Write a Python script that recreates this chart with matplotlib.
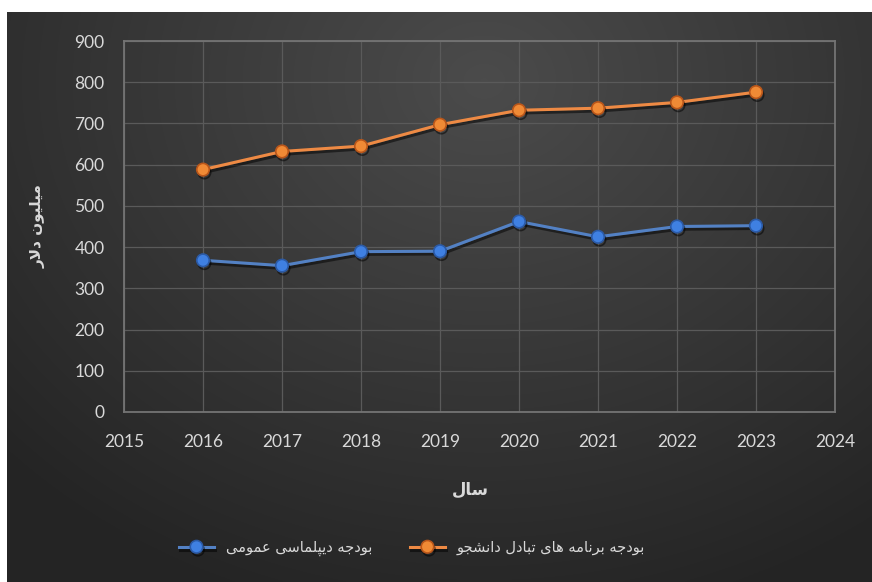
import numpy as np
import matplotlib
matplotlib.use('Agg')
import matplotlib.pyplot as plt
import matplotlib.patheffects as pe

years = [2016, 2017, 2018, 2019, 2020, 2021, 2022, 2023]
exchange_budget = [588, 632, 645, 697, 732, 737, 751, 776]
diplomacy_budget = [368, 355, 389, 390, 462, 425, 450, 452]

label_exchange = 'بودجه برنامه های تبادل دانشجو'
label_diplomacy = 'بودجه دیپلماسی عمومی'
x_title = 'سال'
y_title = 'میلیون دلار'

# contextual forms for the letters used in the Persian labels
# (isolated, final[, initial, medial])
JOIN_FORMS = {
    'ا': ('\ufe8d', '\ufe8e'),
    'د': ('\ufea9', '\ufeaa'),
    'ر': ('\ufead', '\ufeae'),
    'و': ('\ufeed', '\ufeee'),
    'ب': ('\ufe8f', '\ufe90', '\ufe91', '\ufe92'),
    'پ': ('\ufb56', '\ufb57', '\ufb58', '\ufb59'),
    'ت': ('\ufe95', '\ufe96', '\ufe97', '\ufe98'),
    'ج': ('\ufe9d', '\ufe9e', '\ufe9f', '\ufea0'),
    'س': ('\ufeb1', '\ufeb2', '\ufeb3', '\ufeb4'),
    'ش': ('\ufeb5', '\ufeb6', '\ufeb7', '\ufeb8'),
    'ع': ('\ufec9', '\ufeca', '\ufecb', '\ufecc'),
    'ل': ('\ufedd', '\ufede', '\ufedf', '\ufee0'),
    'م': ('\ufee1', '\ufee2', '\ufee3', '\ufee4'),
    'ن': ('\ufee5', '\ufee6', '\ufee7', '\ufee8'),
    'ه': ('\ufee9', '\ufeea', '\ufeeb', '\ufeec'),
    'ی': ('\ufbfc', '\ufbfd', '\ufbfe', '\ufbff'),
}


def shape_fa(text):
    """Join Persian letters and put them in visual (left-to-right) order."""
    out = []
    i = 0
    while i < len(text):
        c = text[i]
        if c not in JOIN_FORMS:
            out.append(c)
            i += 1
            continue
        prev = text[i - 1] if i > 0 else None
        joins_prev = prev in JOIN_FORMS and len(JOIN_FORMS[prev]) == 4
        if c == 'ل' and i + 1 < len(text) and text[i + 1] == 'ا':
            out.append('\ufefc' if joins_prev else '\ufefb')
            i += 2
            continue
        forms = JOIN_FORMS[c]
        nxt = text[i + 1] if i + 1 < len(text) else None
        joins_next = len(forms) == 4 and nxt in JOIN_FORMS
        if joins_prev and joins_next:
            out.append(forms[3])
        elif joins_prev:
            out.append(forms[1])
        elif joins_next:
            out.append(forms[2])
        else:
            out.append(forms[0])
        i += 1
    return ''.join(reversed(out))


FA_FONT = ['DejaVu Sans']
NUM_FONT = ['Lato', 'DejaVu Sans']
TXT = '#d9d9d9'

fig = plt.figure(figsize=(8.72, 5.82), dpi=100, facecolor='white')

# dark radial background
bg = fig.add_axes([7 / 872, 0, 865 / 872, 570 / 582], zorder=0)
h, w = 300, 450
yy, xx = np.mgrid[0:h, 0:w]
r = np.sqrt(((xx / w - 0.55) / 0.75) ** 2 + ((yy / h - 0.12) / 0.95) ** 2)
shade = np.clip(0.295 - 0.15 * r, 0.145, 0.295)
bg.imshow(np.dstack([shade] * 3), aspect='auto', extent=[0, 1, 0, 1],
          interpolation='bilinear')
bg.set_axis_off()

ax = fig.add_axes([124 / 872, 170 / 582, 711 / 872, 371 / 582], zorder=1)
ax.patch.set_alpha(0)

shadow = [pe.SimpleLineShadow(offset=(1, -2), shadow_color='black', alpha=0.5),
          pe.Normal()]

ax.plot(years, exchange_budget, color='#ee8a44', lw=2.2, marker='o', ms=9,
        mfc='#f08a35', mec='#b9561a', mew=1.2, label=shape_fa(label_exchange),
        path_effects=shadow, zorder=3)
ax.plot(years, diplomacy_budget, color='#5381c4', lw=2.2, marker='o', ms=9,
        mfc='#3f80e2', mec='#2b5aa6', mew=1.2, label=shape_fa(label_diplomacy),
        path_effects=shadow, zorder=3)

ax.set_xlim(2015, 2024)
ax.set_ylim(0, 900)
ax.set_xticks(range(2015, 2025))
ax.set_yticks(range(0, 1000, 100))
ax.grid(True, color='#5a5a5a', lw=0.9)
ax.set_axisbelow(True)
for s in ax.spines.values():
    s.set_color('#747474')
    s.set_linewidth(1.3)
ax.tick_params(length=0, colors=TXT, labelsize=12.5)
ax.tick_params(axis='x', pad=16)
ax.tick_params(axis='y', pad=14)
for t in ax.get_xticklabels() + ax.get_yticklabels():
    t.set_family(NUM_FONT)

fig.text(470 / 872, 1 - 490 / 582, shape_fa(x_title), family=FA_FONT,
         fontsize=12, fontweight='bold', color=TXT, ha='center', va='center')
fig.text(38 / 872, 1 - 226 / 582, shape_fa(y_title), family=FA_FONT,
         fontsize=11, fontweight='bold', color=TXT, ha='center', va='center',
         rotation=90)

handles, labels = ax.get_legend_handles_labels()
leg = fig.legend(handles[::-1], labels[::-1], loc='center',
                 bbox_to_anchor=(412 / 872, 1 - 548 / 582), ncol=2,
                 frameon=False, handlelength=2.4, columnspacing=2.6,
                 prop={'family': FA_FONT, 'size': 10.5})
for t in leg.get_texts():
    t.set_color(TXT)

fig.savefig('out.png', dpi=100, facecolor='white')
